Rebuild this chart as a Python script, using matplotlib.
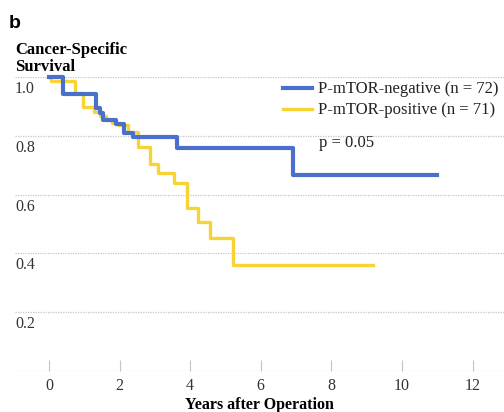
import matplotlib
matplotlib.use("Agg")
import matplotlib.pyplot as plt
from matplotlib.transforms import ScaledTranslation, blended_transform_factory

# ---- data ----
neg_times = [0, 0.40, 1.33, 1.44, 1.54, 1.90, 2.13, 2.38, 3.62, 6.90, 11.0]
neg_surv = [1.0, 0.941, 0.893, 0.879, 0.855, 0.840, 0.810, 0.796, 0.758, 0.667, 0.667]
pos_times = [0, 0.05, 0.74, 0.95, 1.27, 1.45, 1.62, 1.78, 1.96, 2.24, 2.52, 2.87,
             3.10, 3.53, 3.90, 4.23, 4.56, 5.22, 9.18]
pos_surv = [1.0, 0.986, 0.944, 0.899, 0.882, 0.866, 0.853, 0.845, 0.837, 0.814, 0.763,
            0.704, 0.672, 0.638, 0.553, 0.506, 0.451, 0.360, 0.360]
neg_label = "P-mTOR-negative (n = 72)"
pos_label = "P-mTOR-positive (n = 71)"
x_ticks = [0, 2, 4, 6, 8, 10, 12]
y_ticks = [0.2, 0.4, 0.6, 0.8, 1.0]
y_tick_labels = ["0.2", "0.4", "0.6", "0.8", "1.0"]
p_text = "p = 0.05"

serif = ["Liberation Serif", "DejaVu Serif"]
sans = ["Liberation Sans", "DejaVu Sans"]

fig = plt.figure(figsize=(5.04, 4.12), dpi=100)
ax = fig.add_axes([15 / 504, 1 - 371 / 412, 1 - 15 / 504, (371 - 77) / 412])
ax.set_xlim(-0.963, 12.89)
ax.set_ylim(0, 1.0)

for s in ax.spines.values():
    s.set_visible(False)

grid_col = "#c9c4c9"
for yv in [0.0] + y_ticks:
    ax.axhline(yv, color=grid_col, lw=0.9, ls=(0, (1, 1)), zorder=1)

# x ticks drawn as small upward marks
ax.set_xticks(x_ticks)
ax.set_xticklabels([str(v) for v in x_ticks], fontfamily=serif, fontsize=11.5, color="#333333")
ax.tick_params(axis="x", direction="in", length=8, width=0.8, color="#c8c0d0", pad=5)
ax.set_yticks([])

# y tick labels: left aligned, below gridlines
trans = blended_transform_factory(ax.transAxes, ax.transData)
for yv, lab in zip(y_ticks, y_tick_labels):
    ax.text(0.0, yv, lab, transform=trans + ScaledTranslation(0, -4 / 100, fig.dpi_scale_trans),
            ha="left", va="top", fontfamily=serif, fontsize=11.5, color="#333333")

blue = "#4a70cc"
yellow = "#f7d433"
ax.step(pos_times, pos_surv, where="post", color=yellow, lw=2.4, zorder=3, clip_on=False,
        label=pos_label)
ax.step(neg_times, neg_surv, where="post", color=blue, lw=3.0, zorder=4, clip_on=False,
        label=neg_label)

handles, labels = ax.get_legend_handles_labels()
leg = ax.legend(handles[::-1], labels[::-1], loc="upper left", bbox_to_anchor=(268 / 489, 0.985),
                frameon=False, prop={"family": serif, "size": 12}, handlelength=1.74,
                handletextpad=0.36, labelspacing=0.3, borderaxespad=0, borderpad=0)
for t in leg.get_texts():
    t.set_color("#222222")

ax.text(7.66, 0.775, p_text, fontfamily=serif, fontsize=12, color="#222222",
        ha="left", va="center")

ax.set_xlabel("Years after Operation", fontfamily=serif, fontsize=11.5, fontweight="bold",
              labelpad=2.5)

fig.text(15 / 504, 1 - 71 / 412, "Cancer-Specific\nSurvival", fontfamily=serif,
         fontsize=12, fontweight="bold", ha="left", va="baseline", linespacing=1.1)
fig.text(9 / 504, 1 - 28 / 412, "b", fontfamily=sans, fontsize=14, fontweight="bold",
         ha="left", va="baseline")

fig.savefig("out.png", dpi=100)
